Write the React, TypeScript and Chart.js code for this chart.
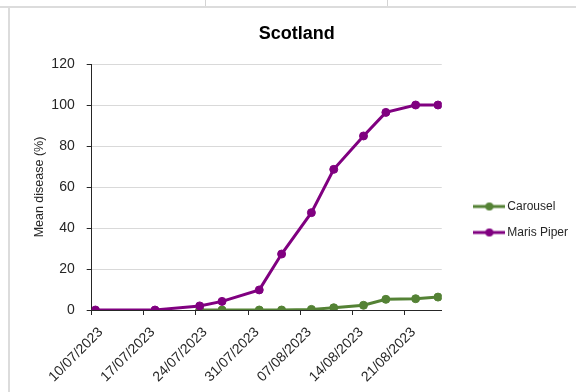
import { useEffect, useRef } from "react";
import { Chart, registerables } from "chart.js";

Chart.register(...registerables);

// Assessment dates and mean disease (%) per variety
const sampleDates = [
  "10/07/2023", "18/07/2023", "24/07/2023", "27/07/2023", "01/08/2023", "04/08/2023",
  "08/08/2023", "11/08/2023", "15/08/2023", "18/08/2023", "22/08/2023", "25/08/2023",
];
const carouselValues: (number | null)[] = [null, null, 0, 0, 0, 0, 0.3, 1.1, 2.3, 5.2, 5.5, 6.3];
const marisPiperValues: (number | null)[] = [0, 0, 2.0, 4.2, 9.8, 27.3, 47.5, 68.6, 84.9, 96.4, 100, 100];

// Axis labels
const weekLabels = [
  "10/07/2023", "17/07/2023", "24/07/2023", "31/07/2023", "07/08/2023", "14/08/2023", "21/08/2023",
];
const axisEndDate = "26/08/2023";
const yTickValues = [0, 20, 40, 60, 80, 100, 120];

const FONT = "'Liberation Sans', Arial, sans-serif";
const TEXT = "#262626";
const GREEN = "#548235";
const PURPLE = "#800080";
const CANVAS_W = 578;
const CANVAS_H = 439;
const PLOT_BOTTOM = 310;

const DAY_MS = 86400000;
function parseDay(s: string): number {
  const [d, m, y] = s.split("/").map(Number);
  return Date.UTC(y, m - 1, d) / DAY_MS;
}
const originDay = parseDay(weekLabels[0]);
const dayOf = (s: string) => parseDay(s) - originDay;

// each observation sits in the middle of its day slot
const toPoints = (values: (number | null)[]) =>
  sampleDates.map((d, i) => ({ x: dayOf(d) + 0.5, y: values[i] }));

function legendSample(color: string): HTMLCanvasElement {
  const c = document.createElement("canvas");
  c.width = 32;
  c.height = 10;
  const g = c.getContext("2d")!;
  g.strokeStyle = color;
  g.lineWidth = 3;
  g.beginPath();
  g.moveTo(0, 5);
  g.lineTo(32, 5);
  g.stroke();
  g.fillStyle = color;
  g.beginPath();
  g.arc(16, 5, 4, 0, Math.PI * 2);
  g.fill();
  return c;
}

export default function App() {
  const canvasRef = useRef<HTMLCanvasElement | null>(null);

  useEffect(() => {
    const canvas = canvasRef.current;
    if (!canvas) return;
    const samples = [legendSample(GREEN), legendSample(PURPLE)];

    const chart = new Chart(canvas, {
      type: "line",
      data: {
        datasets: [
          {
            label: "Carousel",
            data: toPoints(carouselValues) as any,
            borderColor: GREEN,
            backgroundColor: GREEN,
            borderWidth: 3,
            pointRadius: 4,
            pointBorderWidth: 1,
            pointBackgroundColor: GREEN,
            pointBorderColor: GREEN,
            tension: 0,
            order: 1,
          },
          {
            label: "Maris Piper",
            data: toPoints(marisPiperValues) as any,
            borderColor: PURPLE,
            backgroundColor: PURPLE,
            borderWidth: 3,
            pointRadius: 4,
            pointBorderWidth: 1,
            pointBackgroundColor: PURPLE,
            pointBorderColor: PURPLE,
            tension: 0,
            order: 0,
          },
        ],
      },
      options: {
        responsive: false,
        devicePixelRatio: 1,
        animation: false,
        layout: { padding: { left: 15.4, right: 0, top: 0, bottom: 0 } },
        plugins: {
          tooltip: { enabled: false },
          title: {
            display: true,
            text: "Scotland",
            color: "#000",
            font: { family: FONT, size: 18, weight: "bold" },
            padding: { top: 23, bottom: 19.4 },
          },
          legend: {
            position: "right",
            maxWidth: 160,
            labels: {
              usePointStyle: true,
              pointStyleWidth: 24,
              padding: 14,
              color: TEXT,
              font: { family: FONT, size: 12 },
              generateLabels: (c: Chart) =>
                c.data.datasets.map((ds: any, i: number) => ({
                  text: ds.label,
                  pointStyle: samples[i],
                  fillStyle: ds.borderColor,
                  strokeStyle: ds.borderColor,
                  lineWidth: 0,
                  hidden: false,
                  datasetIndex: i,
                  fontColor: TEXT,
                })),
            },
          },
        },
        scales: {
          x: {
            type: "linear",
            min: 0,
            max: dayOf(axisEndDate),
            afterBuildTicks: (s: any) => {
              s.ticks = weekLabels.map((l) => ({ value: dayOf(l) }));
            },
            ticks: {
              autoSkip: false,
              minRotation: 45,
              maxRotation: 45,
              labelOffset: 9,
              padding: 9,
              color: TEXT,
              font: { family: FONT, size: 14 },
              callback: (v: any) => weekLabels.find((l) => dayOf(l) === Number(v)) ?? "",
            },
            grid: { drawOnChartArea: false, tickColor: TEXT, tickLength: 5 },
            border: { color: TEXT, width: 1 },
            afterFit: (s: any) => {
              s.height = CANVAS_H - PLOT_BOTTOM;
            },
          },
          y: {
            min: 0,
            max: 120,
            afterBuildTicks: (s: any) => {
              s.ticks = yTickValues.map((v) => ({ value: v }));
            },
            ticks: {
              padding: 12,
              color: TEXT,
              font: { family: FONT, size: 14 },
            },
            grid: { color: "#d9d9d9", tickColor: TEXT, tickLength: 5, lineWidth: 1 },
            border: { color: TEXT, width: 1 },
            title: {
              display: true,
              text: "Mean disease (%)",
              color: TEXT,
              font: { family: FONT, size: 12.5 },
              padding: { top: 17, bottom: 0 },
            },
            afterFit: (s: any) => {
              s.width = 76.3;
            },
          },
          // empty spacer between the plot and the legend
          yRight: {
            position: "right",
            display: true,
            grid: { display: false, drawTicks: false },
            border: { display: false },
            ticks: { display: false },
            afterFit: (s: any) => {
              s.width = 21.6;
            },
          },
        },
      } as any,
    });

    return () => chart.destroy();
  }, []);

  return (
    <div
      style={{
        position: "fixed",
        left: 0,
        top: 0,
        width: 576,
        height: 392,
        overflow: "hidden",
        background: "#fff",
      }}
    >
      <canvas
        ref={canvasRef}
        width={CANVAS_W}
        height={CANVAS_H}
        style={{ position: "absolute", left: 0, top: 0, width: CANVAS_W, height: CANVAS_H }}
      />
      {/* sheet cell borders around the chart frame */}
      <div style={{ position: "absolute", left: 0, top: 6, width: 576, height: 2, background: "#dcdcdc" }} />
      <div style={{ position: "absolute", left: 8, top: 6, width: 2, height: 386, background: "#dcdcdc" }} />
      <div style={{ position: "absolute", left: 205, top: 0, width: 1, height: 6, background: "#d4d4d4" }} />
      <div style={{ position: "absolute", left: 387, top: 0, width: 1, height: 6, background: "#d4d4d4" }} />
    </div>
  );
}
